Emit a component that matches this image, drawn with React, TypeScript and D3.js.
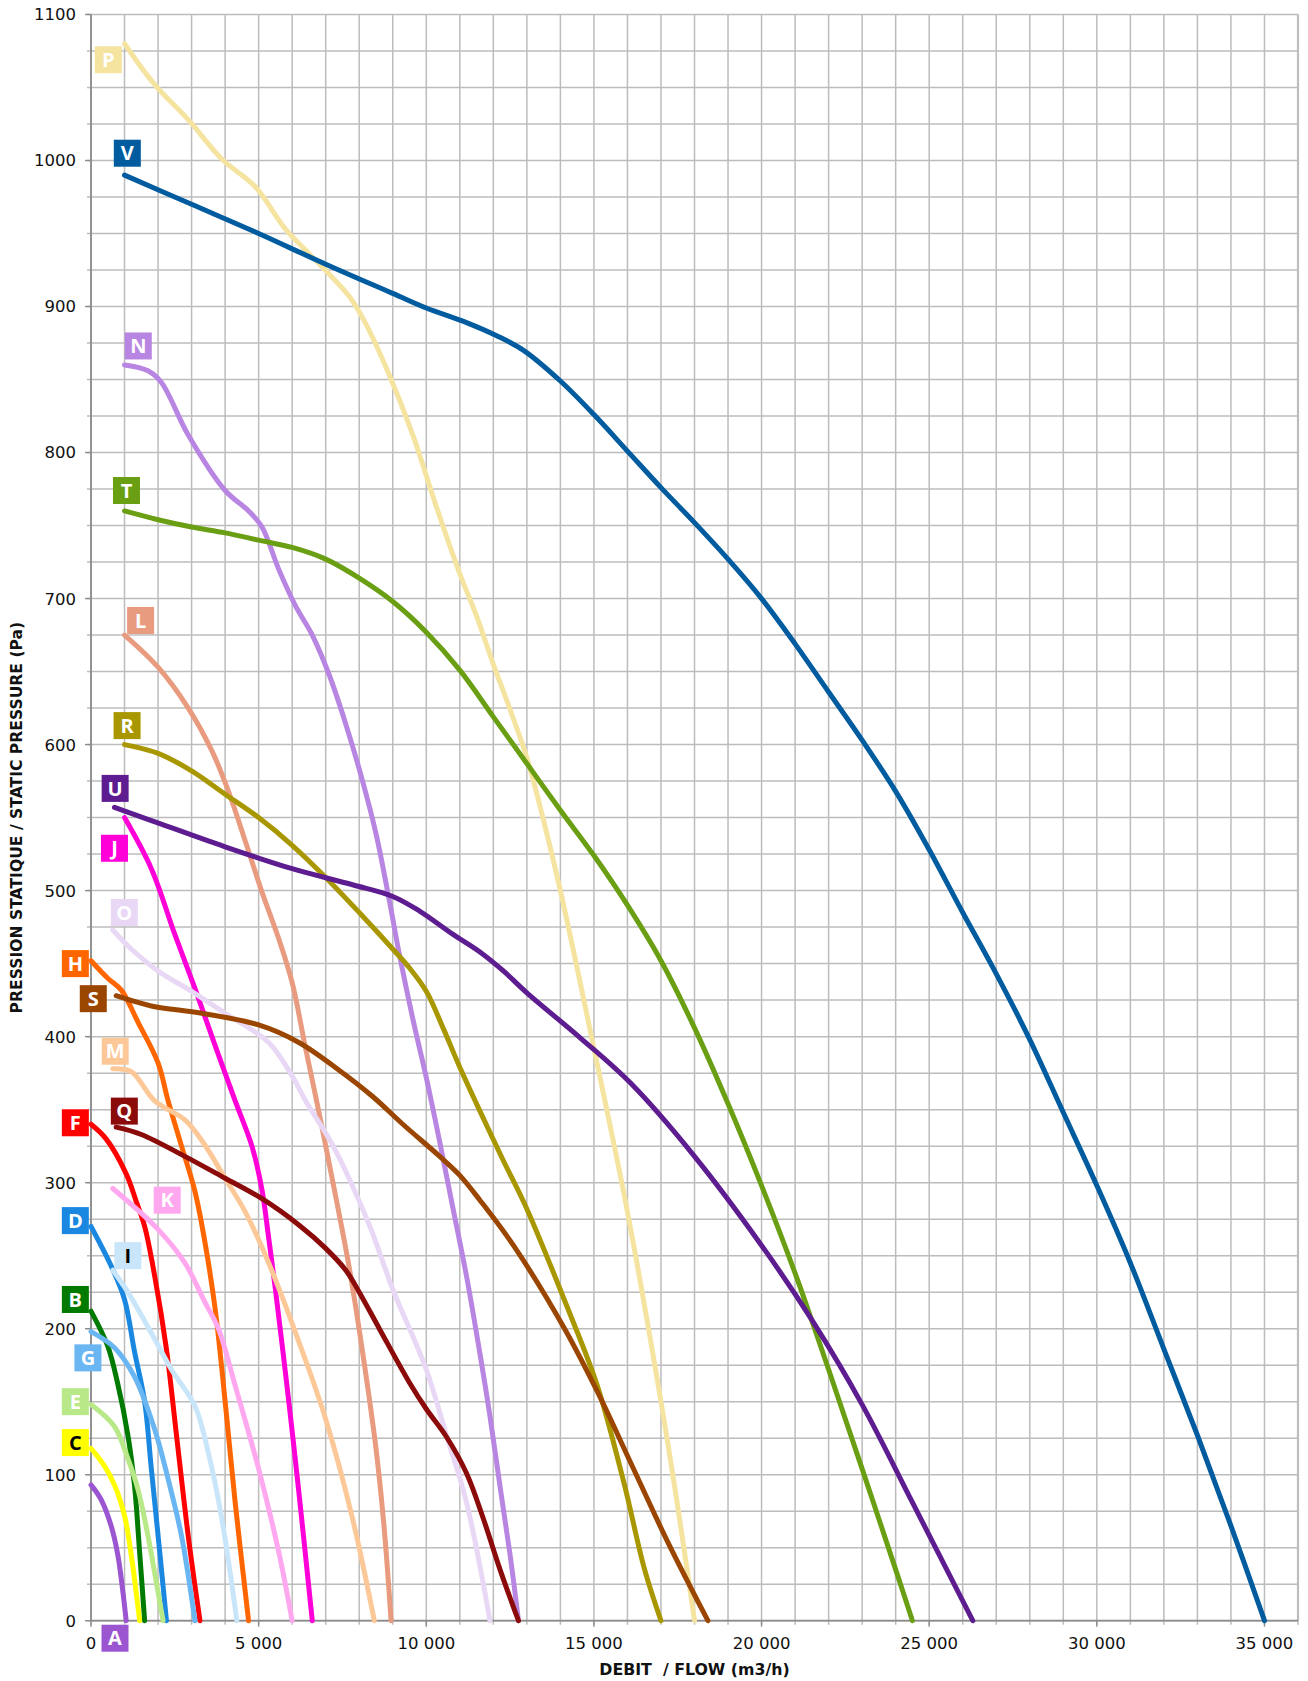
import React from "react";
import * as d3 from "d3";

// ---------- data (flow m3/h, static pressure Pa) ----------
const curveA: [number, number][] = [[0, 93], [300, 83], [600, 65], [800, 45], [950, 20], [1050, 0]];
const curveB: [number, number][] = [[0, 212], [500, 188], [800, 162], [1100, 127], [1300, 92], [1450, 47], [1600, 0]];
const curveC: [number, number][] = [[0, 118], [400, 106], [700, 93], [1000, 72], [1200, 45], [1450, 0]];
const curveD: [number, number][] = [[0, 270], [600, 243], [1000, 220], [1300, 184], [1600, 150], [1800, 104], [2050, 47], [2250, 0]];
const curveE: [number, number][] = [[0, 148], [700, 133], [1100, 111], [1400, 90], [1700, 58], [1950, 26], [2150, 0]];
const curveF: [number, number][] = [[0, 340], [450, 330], [1050, 306], [1350, 287], [1600, 270], [1900, 236], [2250, 186], [2550, 127], [2900, 58], [3250, 0]];
const curveG: [number, number][] = [[0, 198], [700, 187], [1300, 167], [1900, 131], [2300, 97], [2700, 58], [3100, 0]];
const curveH: [number, number][] = [[0, 452], [500, 440], [900, 432], [1400, 410], [2000, 382], [2300, 356], [2700, 325], [3100, 294], [3400, 259], [3700, 214], [3900, 173], [4100, 127], [4300, 81], [4500, 40], [4700, 0]];
const curveI: [number, number][] = [[650, 240], [1100, 225], [1800, 197], [2400, 172], [3100, 147], [3500, 115], [3900, 70], [4350, 0]];
const curveJ: [number, number][] = [[1000, 550], [1800, 515], [2500, 470], [3100, 433], [3700, 394], [4300, 356], [4800, 325], [5100, 295], [5300, 262], [5500, 227], [5900, 150], [6200, 88], [6600, 0]];
const curveK: [number, number][] = [[650, 296], [2000, 268], [2800, 245], [3400, 218], [3800, 200], [4300, 161], [5000, 104], [5600, 47], [6000, 0]];
const curveL: [number, number][] = [[1000, 675], [2000, 653], [2900, 625], [3600, 596], [4100, 568], [4600, 534], [5100, 499], [5600, 467], [6000, 437], [6400, 392], [6800, 348], [7200, 302], [7700, 242], [8100, 184], [8500, 118], [8750, 62], [8950, 0]];
const curveM: [number, number][] = [[650, 378], [1200, 376], [1900, 356], [2800, 343], [3300, 329], [4000, 303], [4600, 280], [5300, 245], [6200, 191], [7000, 138], [7800, 70], [8450, 0]];
const curveN: [number, number][] = [[1000, 860], [1700, 856], [2100, 848], [2900, 812], [4000, 774], [4700, 760], [5100, 749], [5600, 720], [6100, 695], [6600, 675], [7100, 648], [7600, 614], [8100, 575], [8500, 539], [8900, 493], [9200, 456], [9600, 412], [10000, 372], [10400, 328], [10800, 282], [11200, 236], [11600, 183], [11900, 140], [12200, 92], [12500, 45], [12750, 0]];
const curveO: [number, number][] = [[650, 473], [1200, 460], [2000, 445], [3000, 431], [4000, 416], [5300, 396], [6000, 373], [6400, 356], [7200, 326], [8300, 271], [9000, 227], [10000, 172], [10600, 127], [11200, 81], [11900, 0]];
const curveP: [number, number][] = [[1000, 1080], [1900, 1052], [2900, 1028], [3900, 1001], [4900, 982], [5800, 953], [6600, 934], [7700, 907], [8200, 888], [8900, 853], [9600, 812], [10300, 763], [11000, 717], [11500, 688], [12000, 655], [12500, 624], [13000, 591], [13500, 548], [14000, 500], [15000, 392], [16000, 280], [17000, 150], [17500, 78], [18000, 0]];
const curveQ: [number, number][] = [[750, 338], [1500, 333], [2800, 318], [4000, 303], [5100, 289], [6200, 271], [7000, 255], [7600, 240], [8000, 225], [8600, 200], [9500, 163], [10000, 145], [10600, 126], [11200, 101], [11700, 70], [12200, 35], [12750, 0]];
const curveR: [number, number][] = [[1000, 600], [2000, 594], [3000, 582], [4000, 566], [5000, 550], [6000, 531], [7000, 509], [8000, 485], [9000, 460], [9500, 447], [10000, 431], [10500, 406], [11000, 379], [11600, 349], [12300, 315], [13000, 282], [14200, 215], [15100, 161], [15900, 94], [16500, 36], [17000, 0]];
const curveS: [number, number][] = [[750, 428], [1800, 421], [3300, 416], [5000, 408], [6200, 396], [7400, 377], [8400, 359], [9300, 340], [10400, 318], [11000, 305], [11600, 288], [12600, 257], [14100, 201], [15100, 157], [16100, 108], [17200, 54], [18400, 0]];
const curveT: [number, number][] = [[1000, 760], [2000, 754], [3000, 749], [4000, 745], [5000, 740], [6000, 735], [7000, 727], [8000, 714], [9000, 698], [10000, 677], [11000, 651], [12000, 619], [13000, 587], [14000, 555], [15000, 524], [16000, 490], [17000, 452], [18000, 406], [19000, 354], [20000, 298], [21000, 238], [22000, 172], [23000, 104], [24000, 35], [24500, 0]];
const curveU: [number, number][] = [[700, 557], [1800, 548], [4000, 530], [6000, 515], [7800, 504], [9000, 496], [9800, 486], [10800, 470], [11600, 458], [12300, 445], [13000, 430], [14600, 399], [16100, 368], [18000, 318], [20000, 257], [21500, 206], [23000, 148], [24500, 81], [26300, 0]];
const curveV: [number, number][] = [[1000, 990], [3000, 970], [5000, 950], [7000, 929], [9000, 909], [10000, 899], [11200, 889], [12100, 880], [12900, 870], [14000, 849], [15000, 826], [16000, 801], [17000, 776], [18000, 752], [19000, 727], [20000, 700], [21000, 669], [22000, 636], [23000, 603], [24000, 568], [25000, 528], [26000, 485], [27000, 443], [28000, 398], [29000, 348], [30000, 298], [31000, 245], [32000, 186], [33000, 127], [34000, 65], [35000, 0]];

const seriesKeys = ["A", "B", "C", "D", "E", "F", "G", "H", "I", "J", "K", "L", "M", "N", "O", "P", "Q", "R", "S", "T", "U", "V"];
const seriesColors = ["#9b55d0", "#007a00", "#ffff00", "#1a88e0", "#b8e888", "#ff0000", "#6ab6f2", "#ff6600", "#c9e5f9", "#ff00d8", "#ffa8f0", "#e89b7e", "#fdc898", "#b886e2", "#e8d8f5", "#f5e3a0", "#8b0a0a", "#a89700", "#9b4600", "#6a9f14", "#5d1c8f", "#005b9f"];
const seriesPoints = [curveA, curveB, curveC, curveD, curveE, curveF, curveG, curveH, curveI, curveJ, curveK, curveL, curveM, curveN, curveO, curveP, curveQ, curveR, curveS, curveT, curveU, curveV];
// label anchor, in data units (flow, pressure)
const labelAnchors: [number, number][] = [[716, -12], [-467, 220], [-467, 122], [-467, 274], [-467, 150], [-467, 341], [-92, 180], [-467, 450], [1100, 250], [700, 529], [2273, 288], [1480, 685], [722, 390], [1410, 873], [994, 485], [516, 1069], [994, 349], [1076, 613], [68, 426], [1058, 774], [720, 570], [1083, 1005]];
const darkLetter = ["C", "I"];

const xTicks = [0, 5000, 10000, 15000, 20000, 25000, 30000, 35000];
const yTicks = [0, 100, 200, 300, 400, 500, 600, 700, 800, 900, 1000, 1100];
const xTitle = "DEBIT  / FLOW (m3/h)";
const yTitle = "PRESSION STATIQUE / STATIC PRESSURE (Pa)";

export default function App() {
  const W = 1308, H = 1681;
  const left = 91, right = 1298, top = 14.5, bottom = 1620.7;
  const x = d3.scaleLinear().domain([0, 36000]).range([left, right]);
  const y = d3.scaleLinear().domain([0, 1100]).range([bottom, top]);
  const fmt = d3.formatLocale({ decimal: ",", thousands: " ", grouping: [3], currency: ["", ""] }).format(",d");
  const line = d3.line<[number, number]>().x(d => x(d[0])).y(d => y(d[1])).curve(d3.curveCatmullRom.alpha(0.5));
  const vGrid = d3.range(0, 36001, 1000);
  const hGrid = d3.range(0, 1101, 25);
  const font = "DejaVu Sans, Verdana, sans-serif";

  return (
    <svg width={W} height={H} style={{ position: "absolute", left: 0, top: 0, background: "#fff" }} fontFamily={font}>
      <rect x={0} y={0} width={W} height={H} fill="#fff" />
      {/* grid */}
      <g stroke="#bcbcbc" strokeWidth={1.5}>
        {vGrid.map(v => <line key={"v" + v} x1={x(v)} x2={x(v)} y1={top} y2={bottom + 4} />)}
        {hGrid.map(v => <line key={"h" + v} x1={left - 4} x2={right} y1={y(v)} y2={y(v)} />)}
      </g>
      <line x1={right} x2={right} y1={top} y2={bottom} stroke="#bdbdbd" strokeWidth={2.2} />
      {/* ticks */}
      <g stroke="#8c8c8c" strokeWidth={1.4}>
        {yTicks.map(v => <line key={"yt" + v} x1={left - 6} x2={left} y1={y(v)} y2={y(v)} />)}
        {xTicks.map(v => <line key={"xt" + v} x1={x(v)} x2={x(v)} y1={bottom} y2={bottom + 6} />)}
      </g>
      {/* axes */}
      <line x1={left} x2={left} y1={top} y2={bottom} stroke="#8c8c8c" strokeWidth={1.8} />
      <line x1={left} x2={right} y1={bottom} y2={bottom} stroke="#8c8c8c" strokeWidth={1.8} />
      {/* tick labels */}
      <g fontSize={16.5} fill="#111">
        {yTicks.map(v => (
          <text key={"yl" + v} x={left - 15} y={y(v)} dy="0.36em" textAnchor="end">{String(v)}</text>
        ))}
        {xTicks.map(v => (
          <text key={"xl" + v} x={x(v)} y={bottom + 28} textAnchor="middle">{fmt(v)}</text>
        ))}
      </g>
      {/* axis titles */}
      <text x={(left + right) / 2} y={1675} textAnchor="middle" fontSize={15.8} fontWeight="bold" fill="#111" style={{ whiteSpace: "pre" }}>{xTitle}</text>
      <text transform={`translate(22,${(top + bottom) / 2}) rotate(-90)`} textAnchor="middle" fontSize={15.6} fontWeight="bold" fill="#111">{yTitle}</text>
      {/* curves */}
      <g fill="none" strokeWidth={5} strokeLinecap="round" strokeLinejoin="round">
        {seriesKeys.map((k, i) => (
          <path key={"c" + k} d={line(seriesPoints[i]) || ""} stroke={seriesColors[i]} />
        ))}
      </g>
      {/* labels */}
      <g fontFamily="Open Sans, DejaVu Sans, sans-serif" fontWeight="bold" fontSize={20}>
        {seriesKeys.map((k, i) => {
          const cx = x(labelAnchors[i][0]);
          const cy = y(labelAnchors[i][1]);
          return (
            <g key={"l" + k}>
              <rect x={cx - 13.5} y={cy - 13.5} width={27} height={27} fill={seriesColors[i]} />
              <text x={cx} y={cy} dy="0.36em" textAnchor="middle" fill={darkLetter.includes(k) ? "#000" : "#fff"}>{k}</text>
            </g>
          );
        })}
      </g>
    </svg>
  );
}
